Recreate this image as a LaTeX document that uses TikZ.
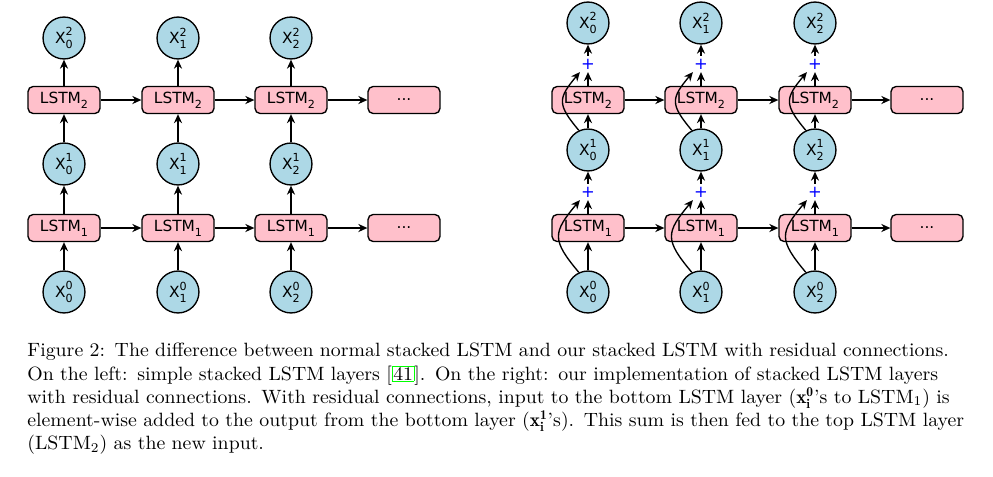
\documentclass[tikz,border=0pt]{standalone}
\usepackage{fontspec}
\newfontfamily\dejavu{DejaVu Sans}
\newfontfamily\capfont{lmroman10-regular.otf}[FakeStretch=1.03, Ligatures=TeX]
\usetikzlibrary{arrows.meta}

\definecolor{lstmpink}{RGB}{255,192,203}
\definecolor{inblue}{RGB}{173,216,230}
\newcommand{\sm}{\fontsize{5.8}{6}\selectfont}
\newcommand{\xsup}[2]{X\rlap{\raisebox{0.85ex}{\sm #1}}\raisebox{-0.6ex}{\sm #2}}
\newcommand{\lsub}[1]{LSTM\raisebox{-0.6ex}{\sm #1}}
\newcommand{\capline}[1]{\hbox to 487pt{#1}\par}

\tikzset{
  lstm/.style={draw, line width=0.7pt, rounded corners=2.6pt, fill=lstmpink,
    minimum width=37.4pt, minimum height=14pt, inner sep=0pt},
  xnode/.style={draw, circle, line width=0.7pt, fill=inblue,
    minimum size=21.8pt, inner sep=0pt},
  addnode/.style={text=blue, minimum size=8pt, inner sep=0pt, font=\dejavu\fontsize{8.5}{9}\selectfont},
  link/.style={->, line width=0.7pt},
}

\begin{document}
\begin{tikzpicture}[x=0.52pt, y=0.52pt, >={Stealth[length=4.7pt,width=4.2pt]},
    font=\dejavu\fontsize{8}{9}\selectfont]
    \fill[white] (0,0) rectangle (993,-476);
    \useasboundingbox (0,0) rectangle (993,-476);

    % Left: plain stacked LSTM
    \foreach \i/\x in {0/64,1/178,2/291} {
        \node[xnode] (ax0\i) at (\x,-292) {\xsup{0}{\i}};
        \node[lstm] (al1\i) at (\x,-228) {\lsub{1}};
        \node[xnode] (ax1\i) at (\x,-164) {\xsup{1}{\i}};
        \node[lstm] (al2\i) at (\x,-100) {\lsub{2}};
        \node[xnode] (ax2\i) at (\x,-38) {\xsup{2}{\i}};
        \draw[link] (ax0\i) -- (al1\i);
        \draw[link] (al1\i) -- (ax1\i);
        \draw[link] (ax1\i) -- (al2\i);
        \draw[link] (al2\i) -- (ax2\i);
    }
    \node[lstm] (adots1) at (404,-228) {...};
    \node[lstm] (adots2) at (404,-100) {...};
    \draw[link] (al10) -- (al11);
    \draw[link] (al11) -- (al12);
    \draw[link] (al12) -- (adots1);
    \draw[link] (al20) -- (al21);
    \draw[link] (al21) -- (al22);
    \draw[link] (al22) -- (adots2);

    % Right: stacked LSTM with residual connections
    \foreach \i/\x in {0/588,1/701,2/815} {
        \node[xnode] (bx0\i) at (\x,-292) {\xsup{0}{\i}};
        \node[lstm] (bl1\i) at (\x,-228) {\lsub{1}};
        \node[addnode] (bp1\i) at (\x,-192) {+};
        \node[xnode] (bx1\i) at (\x,-150) {\xsup{1}{\i}};
        \node[lstm] (bl2\i) at (\x,-100) {\lsub{2}};
        \node[addnode] (bp2\i) at (\x,-64) {+};
        \node[xnode] (bx2\i) at (\x,-23) {\xsup{2}{\i}};
        \draw[link] (bx0\i) -- (bl1\i);
        \draw[link] (bl1\i) -- (bp1\i);
        \draw[link] (bp1\i) -- (bx1\i);
        \draw[link] (bx1\i) -- (bl2\i);
        \draw[link] (bl2\i) -- (bp2\i);
        \draw[link] (bp2\i) -- (bx2\i);
        % residual paths
        \draw[link] (bx0\i.115) to[out=130, in=230, looseness=1.5] (bp1\i.south west);
        \draw[link] (bx1\i.115) to[out=130, in=230, looseness=1.5] (bp2\i.south west);
    }
    \node[lstm] (bdots1) at (927,-228) {...};
    \node[lstm] (bdots2) at (927,-100) {...};
    \draw[link] (bl10) -- (bl11);
    \draw[link] (bl11) -- (bl12);
    \draw[link] (bl12) -- (bdots1);
    \draw[link] (bl20) -- (bl21);
    \draw[link] (bl21) -- (bl22);
    \draw[link] (bl22) -- (bdots2);

    % Caption
    \node[anchor=north west, inner sep=0pt, text width=487pt, align=left,
        font=\capfont\fontsize{10}{12}\selectfont] (caption) at (27,-343) {%
        \capline{Figure 2: The difference between normal stacked LSTM and our stacked LSTM with residual connections.}%
        \capline{On the left: simple stacked LSTM layers [{\setlength\fboxsep{0.3pt}\fcolorbox{green}{white}{41}}]. On the right: our implementation of stacked LSTM layers}%
        \capline{with residual connections. With residual connections, input to the bottom LSTM layer ($\mathbf{x_i^0}$’s to LSTM$_1$) is}%
        \capline{element-wise added to the output from the bottom layer ($\mathbf{x_i^1}$’s). This sum is then fed to the top LSTM layer}%
        \capline{(LSTM$_2$) as the new input.\hfil}};
\end{tikzpicture}
\end{document}
